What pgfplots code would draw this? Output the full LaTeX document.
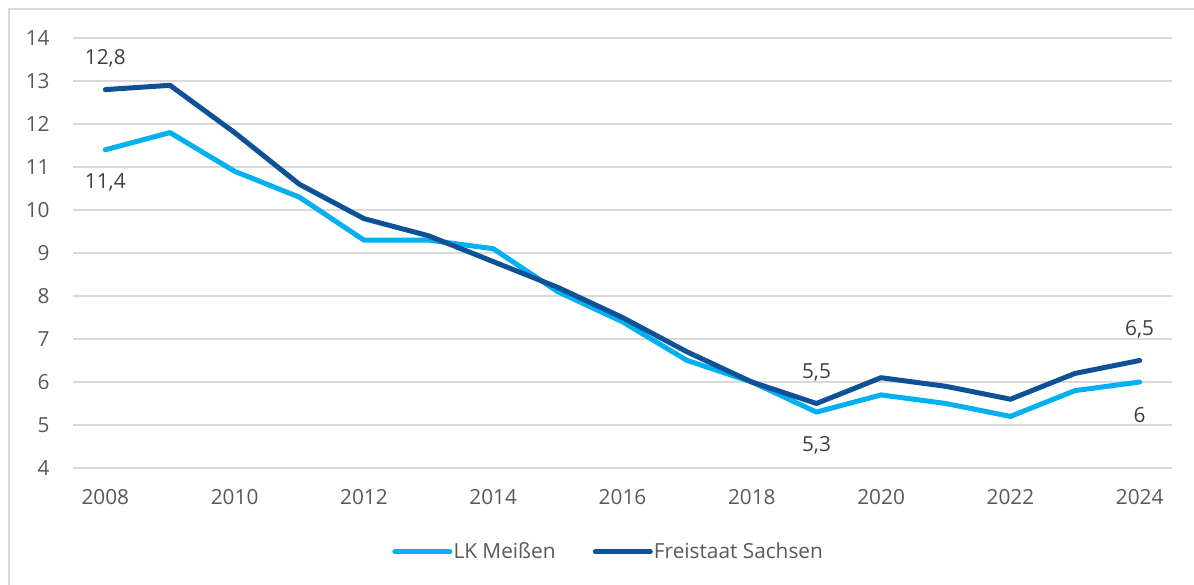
\documentclass[border=0pt]{standalone}
\usepackage{fontspec}
\setmainfont{Open Sans}
\usepackage{pgfplots}
\pgfplotsset{compat=1.18}
\usepackage{pgfplotstable}
\definecolor{lkblue}{HTML}{00B0F0}
\definecolor{sxblue}{HTML}{0E5196}
\definecolor{gridgray}{HTML}{D9D9D9}
\definecolor{ticktext}{HTML}{595959}
\definecolor{labeltext}{HTML}{404040}

\pgfplotstableread{
year lk sx
2008 11.4 12.8
2009 11.8 12.9
2010 10.9 11.8
2011 10.3 10.6
2012 9.3 9.8
2013 9.3 9.4
2014 9.1 8.8
2015 8.1 8.2
2016 7.4 7.5
2017 6.5 6.7
2018 6.0 6.0
2019 5.3 5.5
2020 5.7 6.1
2021 5.5 5.9
2022 5.2 5.6
2023 5.8 6.2
2024 6.0 6.5
}\data

\pgfplotstableread{
year val lab
2008 12.8 12,8
2019 5.5 5,5
2024 6.5 6,5
}\sxlabels

\pgfplotstableread{
year val lab
2008 11.4 11,4
2019 5.3 5,3
2024 6.0 6
}\lklabels

\newcommand{\chartfont}{\fontsize{10.4}{12.5}\selectfont}

\begin{document}
\begin{tikzpicture}[x=1pt,y=1pt]
\useasboundingbox (0,0) rectangle (597,292);
\draw[gridgray, line width=0.75pt] (4.5,-10) -- (4.5,287.5) -- (610,287.5);
\begin{axis}[
  at={(36.5pt,58pt)}, anchor=south west,
  scale only axis, width=549.5pt, height=215pt,
  xmin=2007.5, xmax=2024.5, ymin=4, ymax=14,
  xtick={2008,2010,...,2024}, ytick={4,5,...,14},
  ymajorgrids, grid style={gridgray, line width=0.75pt},
  axis line style={draw=none}, major tick length=0pt,
  tick label style={font=\chartfont, text=ticktext},
  xticklabel style={anchor=north, inner sep=0pt, yshift=-10.75pt},
  yticklabel style={anchor=east, inner sep=0pt, xshift=-11.5pt},
  /pgf/number format/assume math mode=true,
  /pgf/number format/1000 sep={},
  clip=false,
  legend style={at={(0.487,-0.195)}, anchor=center, draw=none, fill=none,
    legend columns=2, font=\chartfont, text=ticktext,
    /tikz/every even column/.append style={column sep=18pt},
    nodes={inner sep=0.6pt}},
  legend cell align=left,
  legend image code/.code={\draw[#1, line cap=round] (0pt,0pt) -- (27.5pt,0pt);},
  every axis plot/.append style={line width=2.5pt, line join=round, line cap=round, mark=none},
]
\addplot[lkblue] table[x=year, y=lk] {\data};
\addlegendentry{LK Meißen}
\addplot[sxblue] table[x=year, y=sx] {\data};
\addlegendentry{Freistaat Sachsen}

\addplot[draw=none, forget plot, nodes near coords, point meta=explicit symbolic,
  nodes near coords style={anchor=center, yshift=15.5pt, font=\chartfont, text=labeltext, inner sep=0pt}]
  table[x=year, y=val, meta=lab] {\sxlabels};
\addplot[draw=none, forget plot, nodes near coords, point meta=explicit symbolic,
  nodes near coords style={anchor=center, yshift=-16.5pt, font=\chartfont, text=labeltext, inner sep=0pt}]
  table[x=year, y=val, meta=lab] {\lklabels};
\end{axis}
\end{tikzpicture}
\end{document}
